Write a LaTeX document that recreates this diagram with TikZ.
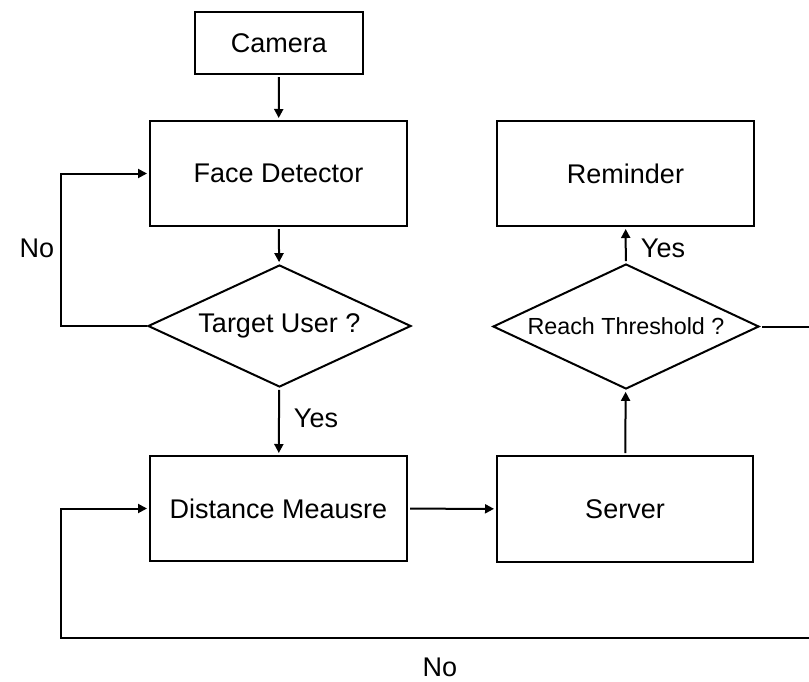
\documentclass[tikz,border=0pt]{standalone}
\usepackage{fontspec}
\setmainfont{Liberation Sans}
\usetikzlibrary{shapes.geometric,arrows.meta}
\newcommand{\flowLabel}[1]{\fontsize{27}{32}\selectfont #1}

\begin{document}
\begin{tikzpicture}[x=1pt,y=-1pt,
  line width=2pt,
  procbox/.style={draw, rectangle, inner sep=0pt, font=\fontsize{27}{32}\selectfont},
  decision/.style={draw, diamond, aspect=2.15, inner sep=0pt, font=\fontsize{27}{32}\selectfont},
  flow/.style={-{Triangle[length=9pt,width=9pt]}, shorten >=2pt, shorten <=2pt}]
\useasboundingbox (0,0) rectangle (809,681);
\node[procbox, minimum width=168pt, minimum height=62pt] (camera) at (279,43) {Camera};
\node[procbox, minimum width=257pt, minimum height=105pt] (face) at (278.5,173.5) {Face Detector};
\node[decision, minimum width=263pt, minimum height=122pt] (target) at (279.5,326) {Target User ?};
\node[procbox, minimum width=257pt, minimum height=105pt] (dist) at (278.5,508.5) {Distance Meausre};
\node[procbox, minimum width=256pt, minimum height=106pt] (server) at (625,509) {Server};
\node[decision, minimum width=266pt, minimum height=125pt, font=\fontsize{23.3}{28}\selectfont] (reach) at (626,326.5) {Reach Threshold ?};
\node[procbox, minimum width=257pt, minimum height=105pt] (reminder) at (625.5,173.5) {Reminder};
\coordinate (leftTop) at (61,326);
\coordinate (rightTop) at (830,326.5);
\coordinate (rightBot) at (830,638);
\coordinate (leftBot) at (61,638);
\draw[flow] (camera) -- (face);
\draw[flow] (face) -- (target);
\draw[flow] (target) -- (dist);
\draw[flow] (dist) -- (server);
\draw[flow] (server) -- (reach);
\draw[flow] (reach) -- (reminder);
\draw[flow, shorten <=0pt] (target.west) -- (leftTop) |- (face.west);
\draw[flow, shorten <=2pt] (reach.east) -- (rightTop) -- (rightBot) -- (leftBot) |- (dist.west);
\node[inner sep=0pt] (noTop) at (37,248) {\flowLabel{No}};
\node[inner sep=0pt] (yesLeft) at (316,418) {\flowLabel{Yes}};
\node[inner sep=0pt] (yesRight) at (663,248) {\flowLabel{Yes}};
\node[inner sep=0pt] (noBot) at (440,667) {\flowLabel{No}};
\end{tikzpicture}
\end{document}
